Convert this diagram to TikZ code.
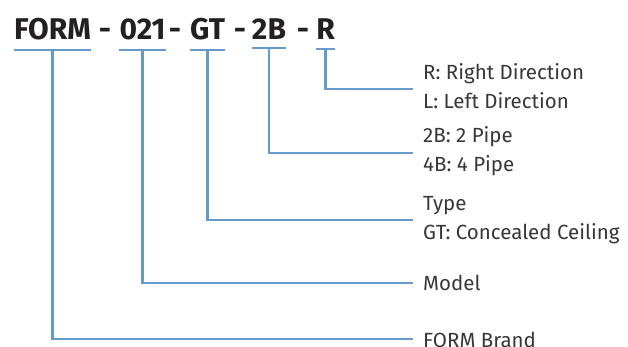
\documentclass[tikz,border=0pt]{standalone}
\usepackage{fontspec}
\setmainfont{Fira Sans}
\usetikzlibrary{positioning}
\definecolor{codeblue}{RGB}{102,153,204}
\definecolor{codetext}{RGB}{35,32,33}
\definecolor{labeltext}{RGB}{55,55,55}

\begin{document}
\begin{tikzpicture}[x=1pt, y=-1pt,
code/.style = {font=\fontsize{30}{30}\selectfont\bfseries, text=codetext, inner sep=0, anchor=base},
meaning/.style = {font=\fontsize{20.5}{29}\selectfont, text=labeltext, anchor=west, align=left, inner xsep=10pt, inner ysep=0},
bar/.style = {draw=codeblue, line width=2.2pt}]

\useasboundingbox (0,0) rectangle (628,347);

\node[code] (form) at (52.5,40) {FORM};
\node[code] (dash a) at (105,40) {-};
\node[code] (model) at (142.5,40) {021};
\node[code] (dash b) at (175,40) {-};
\node[code] (type) at (207.5,40) {GT};
\node[code] (dash c) at (240,40) {-};
\node[code] (pipe) at (269,40) {2B};
\node[code] (dash d) at (303,40) {-};
\node[code] (dir) at (325.5,40) {R};

\node[meaning] (dir text) at (413,86) {R: Right Direction\\L: Left Direction};
\node[meaning] (pipe text) at (413,151) {2B: 2 Pipe\\4B: 4 Pipe};
\node[meaning] (type text) at (413,220) {Type\\GT: Concealed Ceiling};
\node[meaning] (model text) at (413,283) {Model};
\node[meaning] (form text) at (413,340) {FORM Brand};

\coordinate (form bar) at ([yshift=-9pt]form.south);
\coordinate (model bar) at ([yshift=-9pt]model.south);
\coordinate (type bar) at ([yshift=-9pt]type.south);
\coordinate (pipe bar) at ([yshift=-8pt]pipe.south);
\coordinate (dir bar) at ([yshift=-9pt]dir.south);

\draw[bar] (form bar -| form.west) -- (form bar -| form.east);
\draw[bar] (model bar -| model.west) -- (model bar -| model.east);
\draw[bar] (type bar -| type.west) -- (type bar -| type.east);
\draw[bar] (pipe bar -| pipe.west) -- (pipe bar -| pipe.east);
\draw[bar] (dir bar -| dir.west) -- (dir bar -| dir.east);

\draw[bar] (dir bar) |- ([yshift=-3pt]dir text.west);
\draw[bar] (pipe bar) |- ([yshift=-2pt]pipe text.west);
\draw[bar] (type bar) |- (type text.west);
\draw[bar] (model bar) |- (model text.west);
\draw[bar] (form bar) |- ([yshift=1pt]form text.west);

\end{tikzpicture}
\end{document}
